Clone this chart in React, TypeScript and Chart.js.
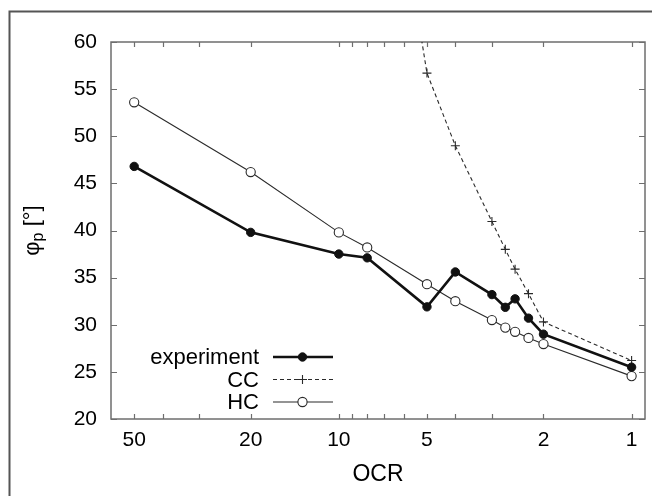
import React, { useEffect, useRef } from "react";
import { Chart, registerables } from "chart.js";
Chart.register(...registerables);

// OCR values (x) shared by experiment and HC
const ocr = [50, 20, 10, 8, 5, 4, 3, 2.7, 2.5, 2.25, 2, 1];
const experiment = [46.8, 39.8, 37.5, 37.1, 31.9, 35.6, 33.2, 31.85, 32.75, 30.7, 29.0, 25.5];
const hc = [53.6, 46.2, 39.8, 38.2, 34.3, 32.5, 30.5, 29.7, 29.25, 28.6, 27.95, 24.55];
// CC model (first point lies above the plotted range)
const ccOcr = [6, 5, 4, 3, 2.7, 2.5, 2.25, 2, 1];
const cc = [72, 56.7, 49.0, 40.95, 38.0, 35.9, 33.3, 30.3, 26.2];

const xLabelTicks = [50, 20, 10, 5, 2, 1];
const xMarkTicks = [50, 40, 30, 20, 10, 9, 8, 7, 6, 5, 4, 3, 2, 1];
const yTicks = [20, 25, 30, 35, 40, 45, 50, 55, 60];

const legendLabels = ["experiment", "CC", "HC"];

const FONT = "'Liberation Sans', Arial, Helvetica, sans-serif";

export default function App() {
  const ref = useRef<HTMLCanvasElement>(null);

  useEffect(() => {
    if (!ref.current) return;

    const decor = {
      id: "decor",
      beforeDatasetsDraw(chart: any) {
        const { ctx, chartArea: a, scales } = chart;
        const xs = scales.x;
        const ys = scales.y;
        ctx.save();
        ctx.strokeStyle = "#6e6e6e";
        ctx.lineWidth = 1.5;
        ctx.strokeRect(a.left, a.top, a.right - a.left, a.bottom - a.top);
        ctx.lineWidth = 1.2;
        ctx.beginPath();
        for (const v of xMarkTicks) {
          const px = Math.round(xs.getPixelForValue(v)) + 0.5;
          ctx.moveTo(px, a.bottom);
          ctx.lineTo(px, a.bottom - 5);
          ctx.moveTo(px, a.top);
          ctx.lineTo(px, a.top + 5);
        }
        for (const v of yTicks) {
          const py = Math.round(ys.getPixelForValue(v)) + 0.5;
          ctx.moveTo(a.left, py);
          ctx.lineTo(a.left + 6, py);
          ctx.moveTo(a.right, py);
          ctx.lineTo(a.right - 6, py);
        }
        ctx.stroke();
        ctx.restore();
      },
      afterDraw(chart: any) {
        const { ctx, chartArea: a } = chart;
        ctx.save();
        // outer frame (left and top visible)
        ctx.strokeStyle = "#555";
        ctx.lineWidth = 2;
        ctx.beginPath();
        ctx.moveTo(9.5, 496);
        ctx.lineTo(9.5, 11.5);
        ctx.lineTo(652, 11.5);
        ctx.stroke();

        // x title
        ctx.fillStyle = "#000";
        ctx.font = `23px ${FONT}`;
        ctx.textAlign = "center";
        ctx.textBaseline = "middle";
        ctx.fillText("OCR", (a.left + a.right) / 2, 475);

        // y title: φp [°]
        ctx.save();
        ctx.translate(33, (a.top + a.bottom) / 2);
        ctx.rotate(-Math.PI / 2);
        ctx.textAlign = "left";
        ctx.textBaseline = "middle";
        const big = `22px ${FONT}`;
        const small = `16px ${FONT}`;
        ctx.font = big;
        const wPhi = ctx.measureText("φ").width;
        const wRest = ctx.measureText(" [°]").width;
        ctx.font = small;
        const wP = ctx.measureText("p").width;
        const total = wPhi + wP + wRest;
        let x0 = -total / 2;
        ctx.font = big;
        ctx.fillText("φ", x0, 0);
        x0 += wPhi;
        ctx.font = small;
        ctx.fillText("p", x0, 6);
        x0 += wP;
        ctx.font = big;
        ctx.fillText(" [°]", x0, 0);
        ctx.restore();

        // legend
        const rowsY = [357, 379.5, 402];
        ctx.font = `22px ${FONT}`;
        ctx.textAlign = "right";
        ctx.textBaseline = "middle";
        const ds = chart.data.datasets;
        legendLabels.forEach((lab, i) => {
          const y = rowsY[i];
          ctx.fillStyle = "#000";
          ctx.fillText(lab, 259, y + 1);
          const d = ds[i];
          ctx.strokeStyle = d.borderColor;
          ctx.lineWidth = d.borderWidth;
          ctx.setLineDash(d.borderDash || []);
          ctx.beginPath();
          ctx.moveTo(273, y);
          ctx.lineTo(333, y);
          ctx.stroke();
          ctx.setLineDash([]);
          const cx = 302.5;
          const r = d.pointRadius;
          ctx.lineWidth = d.pointBorderWidth;
          ctx.strokeStyle = d.pointBorderColor;
          if (d.pointStyle === "cross") {
            ctx.beginPath();
            ctx.moveTo(cx - r, y);
            ctx.lineTo(cx + r, y);
            ctx.moveTo(cx, y - r);
            ctx.lineTo(cx, y + r);
            ctx.stroke();
          } else {
            ctx.beginPath();
            ctx.arc(cx, y, r, 0, Math.PI * 2);
            ctx.fillStyle = d.pointBackgroundColor;
            ctx.fill();
            ctx.stroke();
          }
        });
        ctx.restore();
      },
    };

    const chart = new Chart(ref.current, {
      type: "line",
      data: {
        datasets: [
          {
            label: "experiment",
            data: ocr.map((x, i) => ({ x, y: experiment[i] })),
            borderColor: "#111",
            borderWidth: 2.6,
            pointStyle: "circle",
            pointRadius: 4.2,
            pointBackgroundColor: "#111",
            pointBorderColor: "#111",
            pointBorderWidth: 1,
          },
          {
            label: "CC",
            data: ccOcr.map((x, i) => ({ x, y: cc[i] })),
            borderColor: "#2a2a2a",
            borderWidth: 1.1,
            borderDash: [4, 3],
            pointStyle: "cross",
            pointRadius: 4.5,
            pointBackgroundColor: "#2a2a2a",
            pointBorderColor: "#2a2a2a",
            pointBorderWidth: 1.1,
          },
          {
            label: "HC",
            data: ocr.map((x, i) => ({ x, y: hc[i] })),
            borderColor: "#2a2a2a",
            borderWidth: 1.1,
            pointStyle: "circle",
            pointRadius: 4.6,
            pointBackgroundColor: "#fff",
            pointBorderColor: "#2a2a2a",
            pointBorderWidth: 1.1,
          },
        ],
      },
      options: {
        responsive: false,
        animation: false,
        layout: { padding: { left: 0, right: 7, top: 42, bottom: 0 } },
        plugins: { legend: { display: false }, tooltip: { enabled: false } },
        scales: {
          x: {
            type: "logarithmic",
            reverse: true,
            min: 0.9,
            max: 60,
            grid: { display: false, drawTicks: false },
            border: { display: false },
            afterBuildTicks: (s: any) => {
              s.ticks = xLabelTicks.map((v) => ({ value: v }));
            },
            afterFit: (s: any) => {
              s.height = 77;
            },
            ticks: {
              autoSkip: false,
              maxRotation: 0,
              padding: 9,
              color: "#000",
              font: { family: FONT, size: 21 },
              callback: (v: any) => String(v),
            },
          },
          y: {
            min: 20,
            max: 60,
            grid: { display: false, drawTicks: false },
            border: { display: false },
            afterFit: (s: any) => {
              s.width = 111;
            },
            ticks: {
              stepSize: 5,
              padding: 14,
              color: "#000",
              font: { family: FONT, size: 21 },
            },
          },
        },
      },
      plugins: [decor],
    } as any);

    return () => chart.destroy();
  }, []);

  return (
    <div style={{ position: "fixed", left: 0, top: 0, width: 652, height: 496, background: "#fff" }}>
      <canvas ref={ref} width={652} height={496} style={{ display: "block" }} />
    </div>
  );
}
